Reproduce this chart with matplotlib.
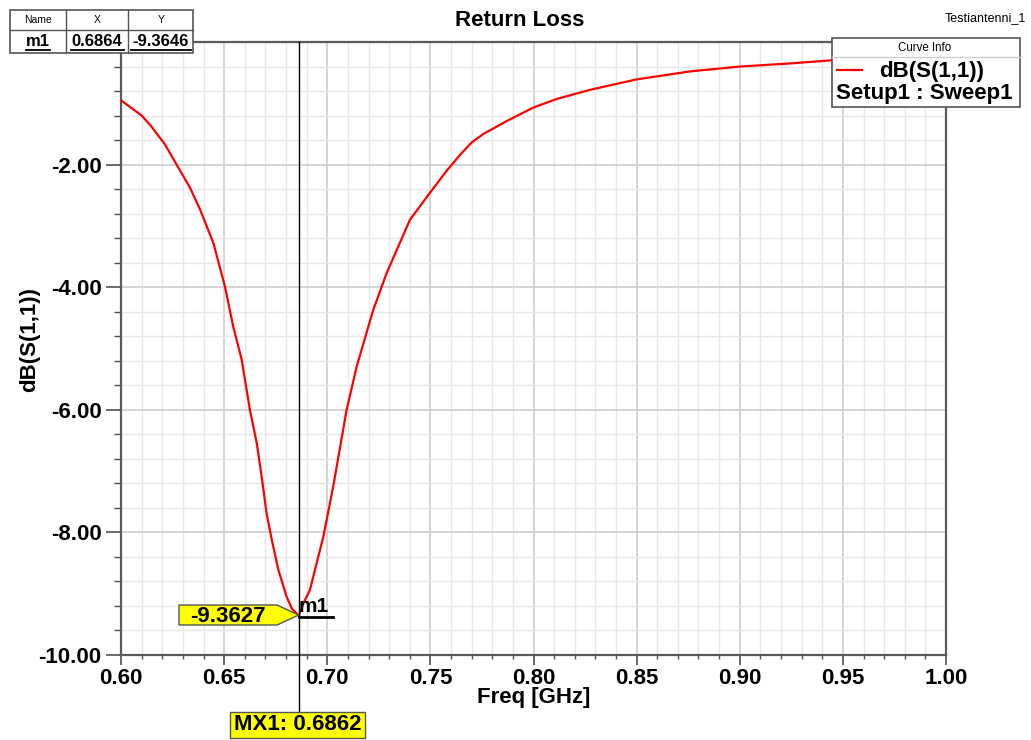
import matplotlib
matplotlib.use("Agg")
import matplotlib.pyplot as plt
from matplotlib.patches import Rectangle, Polygon
from matplotlib.lines import Line2D
from matplotlib.ticker import MultipleLocator, FixedLocator

plt.rcParams['font.family'] = ['Liberation Sans', 'DejaVu Sans']

# ---- data ----
freq = [0.600, 0.610, 0.6141, 0.6213, 0.6335, 0.6383, 0.6448, 0.6504, 0.6544,
        0.6585, 0.6625, 0.6658, 0.6682, 0.6706, 0.6731, 0.6763, 0.6803, 0.6828,
        0.6862, 0.6885, 0.6916, 0.6981, 0.7029, 0.7094, 0.7143, 0.7223, 0.7288,
        0.7401, 0.7498, 0.7579, 0.7644, 0.7700, 0.7757, 0.7870, 0.7999, 0.8112,
        0.8274, 0.8500, 0.8759, 0.9001, 0.9244, 0.9439, 0.9700, 1.0000]
db = [-0.95, -1.20, -1.35, -1.67, -2.38, -2.73, -3.28, -3.99, -4.64,
      -5.18, -6.00, -6.54, -7.09, -7.69, -8.12, -8.61, -9.05, -9.24,
      -9.3627, -9.15, -8.94, -8.07, -7.25, -6.00, -5.29, -4.37, -3.77,
      -2.90, -2.46, -2.10, -1.84, -1.64, -1.50, -1.29, -1.07, -0.93,
      -0.78, -0.61, -0.48, -0.40, -0.35, -0.30, -0.26, -0.22]
x_ticks = [0.60, 0.65, 0.70, 0.75, 0.80, 0.85, 0.90, 0.95, 1.00]
y_ticks = [-10.0, -8.0, -6.0, -4.0, -2.0]
marker_x = 0.6862
marker_y = -9.3627
table_x = "0.6864"
table_y = "-9.3646"

W, H = 1031, 740
fig = plt.figure(figsize=(W / 100, H / 100), dpi=100)

def fx(px):
    return px / W

def fy(py):
    return 1 - py / H

ax = fig.add_axes([fx(121), fy(655), (946 - 121) / W, (655 - 42) / H])
ax.set_xlim(0.6, 1.0)
ax.set_ylim(-10.0, 0.0)

ax.xaxis.set_major_locator(FixedLocator(x_ticks))
ax.xaxis.set_minor_locator(MultipleLocator(0.01))
ax.yaxis.set_major_locator(FixedLocator(y_ticks))
ax.yaxis.set_minor_locator(MultipleLocator(0.4))
ax.set_xticklabels([f"{v:.2f}" for v in x_ticks], fontsize=16, fontweight='bold')
ax.set_yticklabels([f"{v:.2f}" for v in y_ticks], fontsize=16, fontweight='bold')

ax.grid(which='major', color='#cdcdcd', linewidth=1.2)
ax.grid(which='minor', color='#e8e8e8', linewidth=1.0)
ax.set_axisbelow(True)

ax.tick_params(axis='y', which='major', length=11, width=1.2, color='#505050', pad=3)
ax.tick_params(axis='y', which='minor', length=5, width=1.0, color='#505050')
ax.tick_params(axis='x', which='major', length=7, width=1.2, color='#505050', pad=2)
ax.tick_params(axis='x', which='minor', length=3, width=1.0, color='#505050')

for s in ax.spines.values():
    s.set_color('#5a5a5a')
    s.set_linewidth(1.6)

ax.plot(freq, db, color='#ff0000', linewidth=1.6, zorder=3)

fig.text(fx(534), fy(698), "Freq [GHz]", fontsize=16, fontweight='bold',
         ha='center', va='center')
fig.text(fx(30), fy(340), "dB(S(1,1))", fontsize=16, fontweight='bold',
         ha='center', va='center', rotation=90)

fig.text(fx(520), fy(20), "Return Loss", fontsize=16, fontweight='bold',
         ha='center', va='center')
fig.text(fx(1026), fy(18), "Testiantenni_1", fontsize=9, ha='right', va='center')

# marker vertical line (extends below axis)
mxf = fx(121 + (marker_x - 0.6) / 0.4 * 825)
fig.add_artist(Line2D([mxf, mxf], [fy(42), fy(712)], color='black', linewidth=1.0, zorder=4))

# marker value flag
flag = Polygon([(fx(179), fy(605)), (fx(277), fy(605)), (mxf, fy(615)),
                (fx(277), fy(625)), (fx(179), fy(625))], closed=True,
               facecolor='#ffff00', edgecolor='#555555', linewidth=1.0,
               transform=fig.transFigure, zorder=5)
fig.add_artist(flag)
fig.text(fx(228), fy(616), f"{marker_y:.4f}", fontsize=16, fontweight='bold',
         ha='center', va='center', zorder=6)
fig.text(fx(299), fy(606), "m1", fontsize=15, fontweight='bold',
         ha='left', va='center', zorder=6)
fig.add_artist(Line2D([mxf, fx(333)], [fy(617), fy(617)], color='black', linewidth=2.0, zorder=6))

# MX1 box
fig.add_artist(Rectangle((fx(230), fy(738)), fx(365) - fx(230), fy(712) - fy(738),
                         facecolor='#ffff00', edgecolor='#555555', linewidth=1.0,
                         transform=fig.transFigure, zorder=5))
fig.text(fx(297.5), fy(725), f"MX1: {marker_x:.4f}", fontsize=16, fontweight='bold',
         ha='center', va='center', zorder=6)

# marker table top-left
fig.add_artist(Rectangle((fx(10), fy(53)), fx(193) - fx(10), fy(10) - fy(53),
                         facecolor='white', edgecolor='#555555', linewidth=1.2,
                         transform=fig.transFigure, zorder=5))
for xv in [66, 128]:
    fig.add_artist(Line2D([fx(xv), fx(xv)], [fy(10), fy(53)], color='#555555', linewidth=1.0, zorder=6))
fig.add_artist(Line2D([fx(10), fx(193)], [fy(30), fy(30)], color='#555555', linewidth=1.0, zorder=6))
for cx, t in [(38, "Name"), (97, "X"), (161, "Y")]:
    fig.text(fx(cx), fy(20), t, fontsize=7.5, ha='center', va='center', zorder=7)
for cx, t, x0, x1 in [(38, "m1", 26, 50), (97, table_x, 71, 124), (161, table_y, 131, 191)]:
    fig.text(fx(cx), fy(41), t, fontsize=12, fontweight='bold', ha='center', va='center', zorder=7)
    fig.add_artist(Line2D([fx(x0), fx(x1)], [fy(50), fy(50)], color='black', linewidth=1.3, zorder=7))

# legend box
fig.add_artist(Rectangle((fx(832), fy(107)), fx(1020) - fx(832), fy(38) - fy(107),
                         facecolor='white', edgecolor='#555555', linewidth=1.2,
                         transform=fig.transFigure, zorder=5))
fig.add_artist(Line2D([fx(832), fx(1020)], [fy(57), fy(57)], color='#cccccc', linewidth=1.0, zorder=6))
fig.text(fx(925), fy(48), "Curve Info", fontsize=8.3, ha='center', va='center', zorder=7)
fig.add_artist(Line2D([fx(837), fx(862)], [fy(70), fy(70)], color='#ff0000', linewidth=1.6, zorder=7))
fig.text(fx(932), fy(71), "dB(S(1,1))", fontsize=16, fontweight='bold', ha='center', va='center', zorder=7)
fig.text(fx(836), fy(94), "Setup1 : Sweep1", fontsize=16, fontweight='bold', ha='left', va='center', zorder=7)

fig.savefig("out.png", dpi=100)
